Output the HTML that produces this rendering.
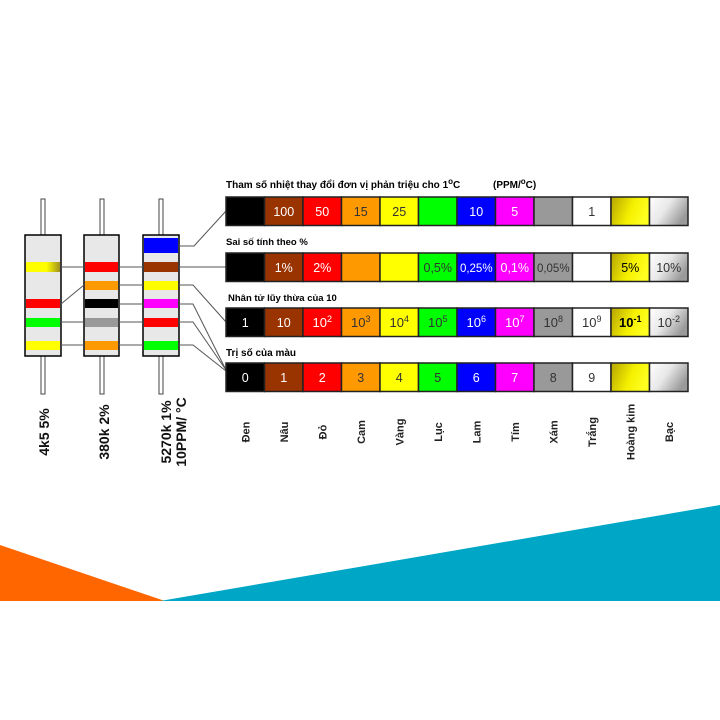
<!DOCTYPE html>
<html><head><meta charset="utf-8"><style>
html,body{margin:0;padding:0;background:#fff}
svg{display:block;font-family:"Liberation Sans",sans-serif}
</style></head><body>
<svg width="720" height="720" viewBox="0 0 720 720" xmlns="http://www.w3.org/2000/svg">
<defs>
<linearGradient id="gold" x1="0" y1="0" x2="1" y2="0.3"><stop offset="0" stop-color="#b5a400"/><stop offset="0.6" stop-color="#f5f000"/><stop offset="1" stop-color="#ffff20"/></linearGradient>
<linearGradient id="silv" x1="0" y1="0" x2="1" y2="0.5"><stop offset="0" stop-color="#ffffff"/><stop offset="0.5" stop-color="#e8e8e8"/><stop offset="1" stop-color="#9a9a9a"/></linearGradient>
<linearGradient id="r1y" x1="0" x2="1"><stop offset="0.6" stop-color="#ffff00"/><stop offset="1" stop-color="#a09020"/></linearGradient>
</defs>
<polygon points="0,545 0,601 165,601" fill="#ff6600"/>
<polygon points="160,601 720,505 720,601" fill="#00a6c6"/>

<g fill="#fff" stroke="#444" stroke-width="1">
<rect x="41" y="199" width="4" height="36"/><rect x="41" y="356" width="4" height="38"/>
<rect x="100" y="199" width="4" height="36"/><rect x="100" y="356" width="4" height="38"/>
<rect x="159" y="199" width="4" height="36"/><rect x="159" y="356" width="4" height="38"/>
</g>
<g stroke="#000" stroke-width="1.5" fill="#e8e8e8">
<rect x="25" y="235" width="36" height="121"/>
<rect x="84" y="235" width="35" height="121"/>
<rect x="143" y="235" width="36" height="121"/>
</g>
<rect x="26" y="262" width="34" height="10" fill="url(#r1y)"/>
<rect x="26" y="299" width="34" height="9" fill="#ff0000"/>
<rect x="26" y="318" width="34" height="9" fill="#00ff00"/>
<rect x="26" y="341" width="34" height="9" fill="#ffff00"/>
<rect x="85" y="262" width="33" height="10" fill="#ff0000"/>
<rect x="85" y="281" width="33" height="9" fill="#ff9900"/>
<rect x="85" y="299" width="33" height="9" fill="#000"/>
<rect x="85" y="318" width="33" height="9" fill="#999"/>
<rect x="85" y="341" width="33" height="9" fill="#ff9900"/>
<rect x="144" y="238" width="34" height="15" fill="#0000ff"/>
<rect x="144" y="262" width="34" height="10" fill="#993300"/>
<rect x="144" y="281" width="34" height="9" fill="#ffff00"/>
<rect x="144" y="299" width="34" height="9" fill="#ff00ff"/>
<rect x="144" y="318" width="34" height="9" fill="#ff0000"/>
<rect x="144" y="341" width="34" height="9" fill="#00ff00"/>

<g stroke="#555" stroke-width="1" fill="none">
<line x1="61" y1="267" x2="84" y2="267"/>
<line x1="61" y1="304" x2="84" y2="285"/>
<line x1="61" y1="322" x2="84" y2="322"/>
<line x1="61" y1="345" x2="84" y2="345"/>
<line x1="119" y1="267" x2="143" y2="267"/>
<line x1="119" y1="285" x2="143" y2="285"/>
<line x1="119" y1="304" x2="143" y2="304"/>
<line x1="119" y1="322" x2="143" y2="322"/>
<line x1="119" y1="345" x2="143" y2="345"/>
<polyline points="179,246 194,246 226,211"/>
<line x1="179" y1="267" x2="226" y2="267"/>
<polyline points="179,285 193,285 226,322"/>
<polyline points="179,304 193,304 226,370"/>
<polyline points="179,322 193,322 226,370"/>
<polyline points="179,345 193,345 226,371"/>
</g>

<g font-weight="bold" font-size="10" fill="#000">
<text x="226" y="188">Tham số nhiệt thay đổi đơn vị phản triệu cho 1<tspan dy="-4" font-size="8">o</tspan><tspan dy="4">C</tspan></text>
<text x="493" y="188">(PPM/<tspan dy="-4" font-size="8">o</tspan><tspan dy="4">C)</tspan></text>
<text x="226" y="245" font-size="9.5">Sai số tính theo %</text>
<text x="228" y="301" font-size="9.5">Nhân tử  lũy thừa của 10</text>
<text x="226" y="356">Trị số của màu</text>
</g>

<script>
(function(){
var cols=["#000","#993300","#ff0000","#ff9900","#ffff00","#00ff00","#0000ff","#ff00ff","#999999","#ffffff","url(#gold)","url(#silv)"];
var tc=["#fff","#fff","#fff","#333","#333","#333","#fff","#fff","#333","#333","#000","#333"];
var rows=[
 {y:197,v:["","100","50","15","25","","10","5","","1","",""]},
 {y:253,v:["","1%","2%","","","0,5%","0,25%","0,1%","0,05%","","5%","10%"]},
 {y:308,v:["1","10","10|2","10|3","10|4","10|5","10|6","10|7","10|8","10|9","10|-1","10|-2"]},
 {y:363,v:["0","1","2","3","4","5","6","7","8","9","",""]}
];
var ns="http://www.w3.org/2000/svg",svg=document.querySelector("svg");
function el(n,a,p){var e=document.createElementNS(ns,n);for(var k in a)e.setAttribute(k,a[k]);(p||svg).appendChild(e);return e;}
var x0=226,w=38.5,h=28.5;
rows.forEach(function(r){
 for(var i=0;i<12;i++){
  el("rect",{x:x0+i*w,y:r.y,width:w,height:h,fill:cols[i],stroke:"#222","stroke-width":1.5});
  var v=r.v[i];if(!v)continue;
  var t=el("text",{x:x0+i*w+w/2,y:r.y+19,"text-anchor":"middle","font-size":v.length>4?11.5:12.5,fill:tc[i]});
  if(v.indexOf("|")>=0){var p=v.split("|");t.textContent=p[0];var s=el("tspan",{dy:-5,"font-size":9},t);s.textContent=p[1];t.setAttribute("font-size",13);if(i==10)t.setAttribute("font-weight","bold");}
  else t.textContent=v;
 }
});
var names=["Đen","Nâu","Đỏ","Cam","Vàng","Lục","Lam","Tím","Xám","Trắng","Hoàng kim","Bạc"];
names.forEach(function(n,i){
 var cx=x0+i*w+w/2+4;
 var t=el("text",{x:0,y:0,transform:"translate("+cx+",432) rotate(-90)","text-anchor":"middle","font-size":11,"font-weight":"bold",fill:"#222"});t.textContent=n;
});
[["4k5  5%",49],["380k  2%",109]].forEach(function(a){
 var t=el("text",{transform:"translate("+a[1]+",432) rotate(-90)","text-anchor":"middle","font-size":14,"font-weight":"bold",fill:"#111"});t.textContent=a[0];
});
var t=el("text",{transform:"translate(171,432) rotate(-90)","text-anchor":"middle","font-size":14,"font-weight":"bold",fill:"#111"});t.textContent="5270k 1%";
t=el("text",{transform:"translate(186,432) rotate(-90)","text-anchor":"middle","font-size":14,"font-weight":"bold",fill:"#111"});t.textContent="10PPM/ °C";
})();
</script>
</svg>
</body></html>
